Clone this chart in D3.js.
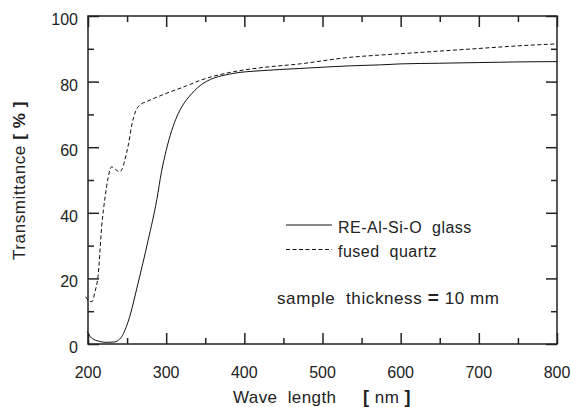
<!DOCTYPE html>
<html lang="en">
<head>
  <meta charset="UTF-8">
  <title>Transmittance</title>
  <style>
    * { padding: 0; margin: 0; }
    body { background: #fff; }
    svg { display: block; font-family: "Liberation Sans", Arial, sans-serif; }
    text { white-space: pre; }
  </style>
</head>
<body>
  <svg id="svg"></svg>
  <script src="https://cdnjs.cloudflare.com/ajax/libs/d3/7.8.5/d3.min.js"></script>
  <script>
    // RE-Al-Si-O glass (solid)
    const glassNm = [199, 203, 209, 215, 222, 234, 238, 243, 252, 264, 277, 288, 294, 300, 307, 314, 320, 333, 347, 386, 420, 471, 535, 574, 600, 650, 700, 750, 800]
    const glassT = [3.8, 2.2, 1.2, 0.8, 0.5, 0.6, 1.0, 2.2, 7.3, 18.5, 31.7, 44, 52.5, 59, 65, 69.5, 72.3, 76.4, 79.4, 82.5, 83.3, 84, 84.8, 85.1, 85.4, 85.6, 85.8, 86, 86.1]
    // fused quartz (dashed)
    const quartzNm = [197, 200, 205, 209, 213, 217.5, 222, 226, 230, 235, 240, 244, 247, 252, 256, 261, 266.5, 275, 300, 326, 345, 386, 420, 471, 535, 574, 600, 650, 700, 750, 800]
    const quartzT = [14.4, 13.4, 12.9, 16, 21, 35.8, 45, 51, 54, 53.3, 52.5, 53.5, 56, 61.2, 66.8, 71, 72.9, 73.9, 76.4, 78.7, 80.5, 83, 84.2, 85.4, 87.4, 88.1, 88.5, 89.3, 90.1, 90.9, 91.5]

    const xTicks = [200, 300, 400, 500, 600, 700, 800]
    const xMinor = [250, 350, 450, 550, 650, 750]
    const yTicks = [0, 20, 40, 60, 80, 100]
    const yMinor = [10, 30, 50, 70, 90]

    const width = 571, height = 407
    const margin = { top: 16, right: 14, bottom: 63, left: 88 }

    const svg = d3.select('#svg').attr('width', width).attr('height', height)

    const x = d3.scaleLinear().domain([200, 800]).range([margin.left, width - margin.right])
    const y = d3.scaleLinear().domain([0, 100]).range([height - margin.bottom, margin.top])

    const line = d3.line().x(d => x(d[0])).y(d => y(d[1])).curve(d3.curveMonotoneX)

    svg.append('path')
      .datum(glassNm.map((v, i) => [v, glassT[i]]))
      .attr('d', line)
      .attr('fill', 'none')
      .attr('stroke', '#111')
      .attr('stroke-width', 1)

    svg.append('path')
      .datum(quartzNm.map((v, i) => [v, quartzT[i]]))
      .attr('d', line)
      .attr('fill', 'none')
      .attr('stroke', '#111')
      .attr('stroke-width', 1)
      .attr('stroke-dasharray', '4,2.5')

    // frame
    svg.append('rect')
      .attr('x', x(200)).attr('y', y(100))
      .attr('width', x(800) - x(200)).attr('height', y(0) - y(100))
      .attr('fill', 'none').attr('stroke', '#222').attr('stroke-width', 1.5)

    // inward ticks on all sides
    const major = 11, minor = 6
    const addAxis = (axis, transform) => {
      const g = svg.append('g').attr('transform', transform).call(axis)
      g.select('.domain').remove()
      g.selectAll('line').attr('stroke', '#222').attr('stroke-width', 1.5)
      g.selectAll('text').remove()
      return g
    }
    addAxis(d3.axisTop(x).tickValues(xTicks).tickSize(major), `translate(0,${y(0)})`)
    addAxis(d3.axisTop(x).tickValues(xMinor).tickSize(minor), `translate(0,${y(0)})`)
    addAxis(d3.axisBottom(x).tickValues(xTicks).tickSize(major), `translate(0,${y(100)})`)
    addAxis(d3.axisBottom(x).tickValues(xMinor).tickSize(minor), `translate(0,${y(100)})`)
    addAxis(d3.axisRight(y).tickValues(yTicks).tickSize(major), `translate(${x(200)},0)`)
    addAxis(d3.axisRight(y).tickValues(yMinor).tickSize(minor), `translate(${x(200)},0)`)
    addAxis(d3.axisLeft(y).tickValues(yTicks).tickSize(major), `translate(${x(800)},0)`)
    addAxis(d3.axisLeft(y).tickValues(yMinor).tickSize(minor), `translate(${x(800)},0)`)

    // tick labels
    svg.append('g').selectAll('text').data(xTicks).join('text')
      .attr('x', d => x(d)).attr('y', y(0) + 34)
      .attr('text-anchor', 'middle').attr('font-size', 16).attr('fill', '#222')
      .text(d => d)
    svg.append('g').selectAll('text').data(yTicks).join('text')
      .attr('x', x(200) - 10).attr('y', d => y(d) + 9)
      .attr('text-anchor', 'end').attr('font-size', 16).attr('fill', '#222')
      .text(d => d)

    // axis titles
    const yt = svg.append('text')
      .attr('transform', 'translate(25,260) rotate(-90)')
      .attr('font-size', 17).attr('letter-spacing', 0.6).attr('fill', '#222')
    yt.append('tspan').text('Transmittance ')
    yt.append('tspan').attr('font-weight', 'bold').text('[ % ]')

    const xt = svg.append('text')
      .attr('x', 233).attr('y', 403)
      .attr('font-size', 17).attr('letter-spacing', 0.4).attr('fill', '#222')
    xt.append('tspan').text('Wave  length')
    xt.append('tspan').attr('x', 363).attr('font-weight', 'bold').attr('font-size', 18).text('[ ')
    xt.append('tspan').text('nm')
    xt.append('tspan').attr('font-weight', 'bold').attr('font-size', 18).text(' ]')

    // legend
    const legend = svg.append('g').attr('font-size', 16).attr('letter-spacing', 0.5).attr('fill', '#222')
    legend.append('line').attr('x1', 286).attr('x2', 332).attr('y1', 225).attr('y2', 225)
      .attr('stroke', '#111').attr('stroke-width', 1)
    legend.append('text').attr('x', 338).attr('y', 232.5).text('RE-Al-Si-O  glass')
    legend.append('line').attr('x1', 286).attr('x2', 332).attr('y1', 249.5).attr('y2', 249.5)
      .attr('stroke', '#111').attr('stroke-width', 1).attr('stroke-dasharray', '4,2.5')
    legend.append('text').attr('x', 338).attr('y', 256.5).text('fused  quartz')
    const note = svg.append('text').attr('x', 277).attr('y', 304)
      .attr('font-size', 17).attr('letter-spacing', 0.6).attr('fill', '#222')
    note.append('tspan').text('sample  thickness ')
    note.append('tspan').attr('font-weight', 'bold').attr('font-size', 19).text('=')
    note.append('tspan').text(' 10 mm')
  </script>
</body>
</html>
